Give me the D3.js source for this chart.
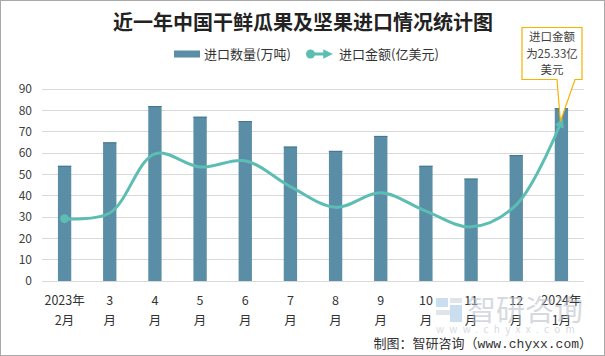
<!DOCTYPE html>
<html><head><meta charset="utf-8">
<script src="https://cdn.jsdelivr.net/npm/d3@7/dist/d3.min.js"></script>
<style>
html,body{margin:0;padding:0;background:#fff;}
svg{display:block;font-family:"Noto Sans CJK SC","Noto Sans",sans-serif;}
</style></head>
<body>
<svg id="chart" width="605" height="356"></svg>
<script>
const categories = ["2023年2月","3月","4月","5月","6月","7月","8月","9月","10月","11月","12月","2024年1月"];
const labelTop = ["2023年","3","4","5","6","7","8","9","10","11","12","2024年"];
const labelBottom = ["2月","月","月","月","月","月","月","月","月","月","月","1月"];
const volume = [54, 65, 82, 77, 75, 63, 61, 68, 54, 48, 59, 81];          // 进口数量(万吨)
const amount = [9.9, 10.8, 20.2, 18.1, 19.1, 15.0, 11.7, 14.0, 11.1, 8.6, 12.1, 25.33]; // 进口金额(亿美元)
const yTicks = [0,10,20,30,40,50,60,70,80,90];

const svg = d3.select("#chart");
const barColor = "#5a8da6", lineColor = "#5cbdb2";

svg.append("rect").attr("x",0.5).attr("y",0.5).attr("width",604).attr("height",355)
  .attr("fill","#fff").attr("stroke","#a9a9a9");

const x = d3.scaleBand().domain(categories).range([42,584]).padding(0);
const y = d3.scaleLinear().domain([0,90]).range([281,89]);
const y2 = d3.scaleLinear().domain([0,30.5]).range([281,89]);

// gridlines
svg.append("g").selectAll("line").data(yTicks).join("line")
  .attr("x1",42).attr("x2",584)
  .attr("y1",d=>y(d)).attr("y2",d=>y(d))
  .attr("stroke","#d9d9d9").attr("stroke-width",1)
  .attr("shape-rendering","crispEdges");

// y axis labels
const yAxis = svg.append("g").attr("transform","translate(32,0)")
  .call(d3.axisLeft(y).tickValues(yTicks).tickSize(0).tickPadding(0));
yAxis.select(".domain").remove();
yAxis.selectAll("text").attr("font-size",12).attr("fill","#404040")
  .attr("font-family","'Noto Sans CJK SC',sans-serif");

// bars
const bw = x.bandwidth()*0.295;
svg.append("g").selectAll("rect").data(volume).join("rect")
  .attr("x",(d,i)=>x(categories[i])+x.bandwidth()/2-bw/2)
  .attr("width",bw)
  .attr("y",d=>y(d)).attr("height",d=>y(0)-y(d))
  .attr("fill",barColor);
svg.append("g").selectAll("line").data(volume).join("line")
  .attr("x1",(d,i)=>x(categories[i])+x.bandwidth()/2-bw/2)
  .attr("x2",(d,i)=>x(categories[i])+x.bandwidth()/2+bw/2)
  .attr("y1",d=>y(d)+0.5).attr("y2",d=>y(d)+0.5)
  .attr("stroke","#44768f").attr("stroke-width",1);

// x labels
const xl = svg.append("g");
categories.forEach((c,i)=>{
  const cx = x(c)+x.bandwidth()/2;
  xl.append("text").attr("x",cx).attr("y",305).attr("text-anchor","middle")
    .attr("font-size",12.5).attr("fill","#333").text(labelTop[i]);
  xl.append("text").attr("x",cx).attr("y",325).attr("text-anchor","middle")
    .attr("font-size",12.5).attr("fill","#333").text(labelBottom[i]);
});

// watermark
const wm = svg.append("g").attr("opacity",0.55);
wm.append("rect").attr("x",436).attr("y",298).attr("width",12).attr("height",9).attr("fill","#9fc4e3");
wm.append("rect").attr("x",450).attr("y",298).attr("width",12).attr("height",5).attr("fill","#c8d0dc");
wm.append("rect").attr("x",436).attr("y",310).attr("width",26).attr("height",5).attr("fill","#c8d0dc");
wm.append("rect").attr("x",450).attr("y",305).attr("width",12).attr("height",17).attr("fill","#9fc4e3");
wm.append("text").attr("x",467).attr("y",321).attr("font-size",29).attr("fill","#b5bcc8").text("智研咨询");
wm.append("text").attr("x",436).attr("y",333).attr("font-size",10).attr("letter-spacing",5.3)
  .attr("fill","#b5bcc8").text("www.chyxx.com");

// line
const defs = svg.append("defs");
defs.append("marker").attr("id","arrow").attr("viewBox","0 0 10 10")
  .attr("refX",6).attr("refY",5).attr("markerWidth",3.2).attr("markerHeight",3.2)
  .attr("orient","auto").attr("markerUnits","strokeWidth")
  .append("path").attr("d","M0,0 L10,5 L0,10 Z").attr("fill",lineColor);

const line = d3.line()
  .x((d,i)=>x(categories[i])+x.bandwidth()/2)
  .y(d=>y2(d))
  .curve(d3.curveCatmullRom.alpha(0.5));
svg.append("path").datum(amount).attr("d",line)
  .attr("fill","none").attr("stroke",lineColor).attr("stroke-width",3)
  .attr("marker-end","url(#arrow)");
svg.append("circle").attr("cx",x(categories[0])+x.bandwidth()/2).attr("cy",y2(amount[0]))
  .attr("r",4.5).attr("fill",lineColor);

// callout
const last = amount.length-1;
const tipX = x(categories[last])+x.bandwidth()/2-1, tipY = y2(amount[last]);
const bx0=522, bx1=582, by0=27.5, by1=79.5, n0=557, n1=575;
svg.append("path")
  .attr("d",`M${bx0},${by0} H${bx1} V${by1} H${n1} L${tipX},${tipY} L${n0},${by1} H${bx0} Z`)
  .attr("fill","#fff").attr("stroke","#f4b400").attr("stroke-width",1.2);
["进口金额","为25.33亿","美元"].forEach((t,i)=>{
  svg.append("text").attr("x",(bx0+bx1)/2).attr("y",41+i*16.7).attr("text-anchor","middle")
    .attr("font-size",11.5).attr("fill","#404040").text(t);
});

// title
svg.append("text").attr("x",303).attr("y",30).attr("text-anchor","middle")
  .attr("font-size",20).attr("font-weight","bold").attr("fill","#222")
  .text("近一年中国干鲜瓜果及坚果进口情况统计图");

// legend
svg.append("rect").attr("x",174).attr("y",50.5).attr("width",26).attr("height",7).attr("fill",barColor);
svg.append("text").attr("x",204).attr("y",58.5).attr("font-size",13).attr("fill","#333").text("进口数量(万吨)");
svg.append("line").attr("x1",310).attr("x2",329).attr("y1",54).attr("y2",54)
  .attr("stroke",lineColor).attr("stroke-width",3).attr("marker-end","url(#arrow)");
svg.append("circle").attr("cx",310.5).attr("cy",54).attr("r",4.5).attr("fill",lineColor);
svg.append("text").attr("x",339).attr("y",58.5).attr("font-size",13).attr("fill","#333").text("进口金额(亿美元)");

// footer
svg.append("text").attr("x",592).attr("y",348).attr("text-anchor","end")
  .attr("font-size",13).attr("fill","#333")
  .attr("font-family","'Liberation Mono','Noto Sans CJK SC',monospace")
  .text("制图：智研咨询（www.chyxx.com）");
</script>
</body></html>
